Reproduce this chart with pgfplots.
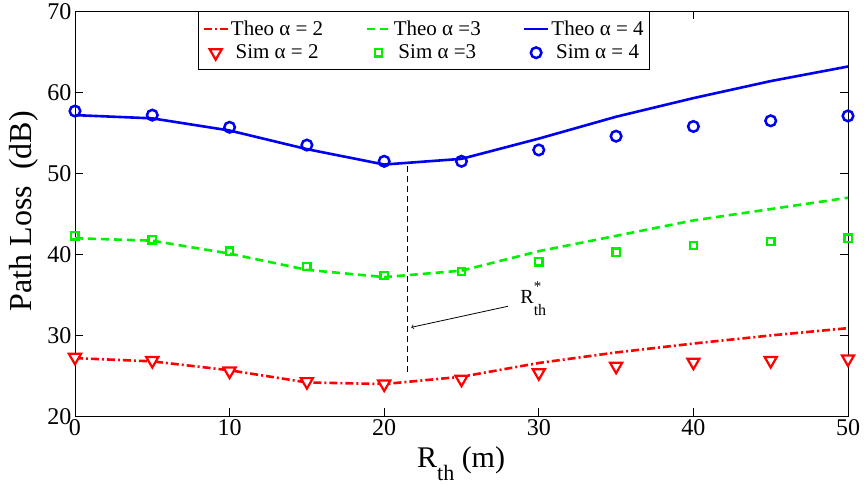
\documentclass[border=0pt]{standalone}
\usepackage{fontspec}
\setmainfont{Liberation Serif}
\usepackage{pgfplots}
\pgfplotsset{compat=1.18}
\definecolor{myblue}{RGB}{0,0,240}
\definecolor{mygreen}{RGB}{0,240,0}
\definecolor{myred}{RGB}{255,0,0}
\begin{document}
\begin{tikzpicture}
\begin{axis}[
 scale only axis, width=773pt, height=405pt,
 xmin=0, xmax=50, ymin=20, ymax=70,
 xtick={0,10,...,50}, ytick={20,30,...,70},
 tick align=inside, major tick length=8pt,
 tick style={black, line width=0.6pt},
 axis line style={line width=0.8pt},
 clip mode=individual,
 ticklabel style={font=\fontsize{24}{24}\selectfont},
 /pgf/number format/assume math mode=true,
 xlabel={R\raisebox{-0.45em}{\fontsize{22}{22}\selectfont th} (m)},
 ylabel={Path Loss\ \ (dB)},
 xlabel style={font=\fontsize{30}{30}\selectfont, at={(axis description cs:0.4995,-0.126)}, anchor=base},
 ylabel style={font=\fontsize{32}{32}\selectfont, at={(axis description cs:-0.066,0.507)}, anchor=center},
 legend columns=3,
 legend image code/.code={\draw[mark repeat=2,mark phase=2,#1] plot coordinates {(0pt,0pt) (12pt,0pt) (24pt,0pt)};},
 legend style={at={(rel axis cs:0.159,1)}, anchor=north west, draw=black, line width=1pt,
   font=\fontsize{21}{23}\selectfont, inner xsep=4pt, inner ysep=7pt, row sep=4pt,
   /tikz/every even column/.append style={column sep=40pt}},
]
\addplot[myred, line width=2.6pt, dash pattern=on 8pt off 3pt on 2pt off 3pt] coordinates {
(0,27.2) (5,26.8) (10,25.7) (15,24.2) (20,24.0) (25,24.9) (30,26.6) (35,27.9) (40,29.0) (45,30.0) (50,30.9)};
\addlegendentry{Theo α = 2}
\addplot[mygreen, line width=2.6pt, dash pattern=on 8pt off 5pt] coordinates {
(0,42.0) (5,41.7) (10,40.1) (15,38.1) (20,37.2) (25,38.0) (30,40.4) (35,42.3) (40,44.2) (45,45.6) (50,47.0)};
\addlegendentry{Theo α =3}
\addplot[myblue, line width=2.6pt] coordinates {
(0,57.2) (5,56.8) (10,55.3) (15,53.0) (20,51.1) (25,51.8) (30,54.3) (35,57.0) (40,59.3) (45,61.4) (50,63.2)};
\addlegendentry{Theo α = 4\hspace{24pt}}
\addplot[only marks, myred, mark=triangle*, mark size=7pt, mark options={rotate=180, solid, fill=white, line width=2.2pt}] coordinates {
(0,27.3) (5,26.9) (10,25.6) (15,24.3) (20,24.0) (25,24.6) (30,25.4) (35,26.2) (40,26.7) (45,26.9) (50,27.1)};
\addlegendentry{Sim α = 2}
\addplot[only marks, mygreen, mark=square, mark size=3.7pt, mark options={solid, line width=2.4pt}] coordinates {
(0,42.3) (5,41.8) (10,40.4) (15,38.5) (20,37.4) (25,37.9) (30,39.1) (35,40.3) (40,41.1) (45,41.6) (50,42.0)};
\addlegendentry{Sim α =3}
\addplot[only marks, myblue, mark=o, mark size=5.3pt, mark options={solid, line width=2.5pt}] coordinates {
(0,57.7) (5,57.2) (10,55.7) (15,53.5) (20,51.5) (25,51.5) (30,52.9) (35,54.6) (40,55.8) (45,56.5) (50,57.1)};
\addlegendentry{Sim α = 4}
\addplot[black, line width=1pt, dash pattern=on 6pt off 4pt, forget plot] coordinates {(21.5,25.5) (21.5,51.2)};
\draw[->, line width=0.8pt] (axis cs:28.0,33.6) -- (axis cs:21.75,31.0);
\node[anchor=base west, inner sep=0pt, font=\fontsize{20}{20}\selectfont] at (axis cs:28.8,33.95)
  {R\rlap{\raisebox{0.6em}{\fontsize{15}{15}\selectfont *}}\raisebox{-0.62em}{\fontsize{16}{16}\selectfont th}};
\coordinate (BL) at (rel axis cs:-0.097,-0.170);
\coordinate (TR) at (rel axis cs:1.0207,1.0198);
\end{axis}
\path (BL) rectangle (TR);
\end{tikzpicture}
\end{document}
